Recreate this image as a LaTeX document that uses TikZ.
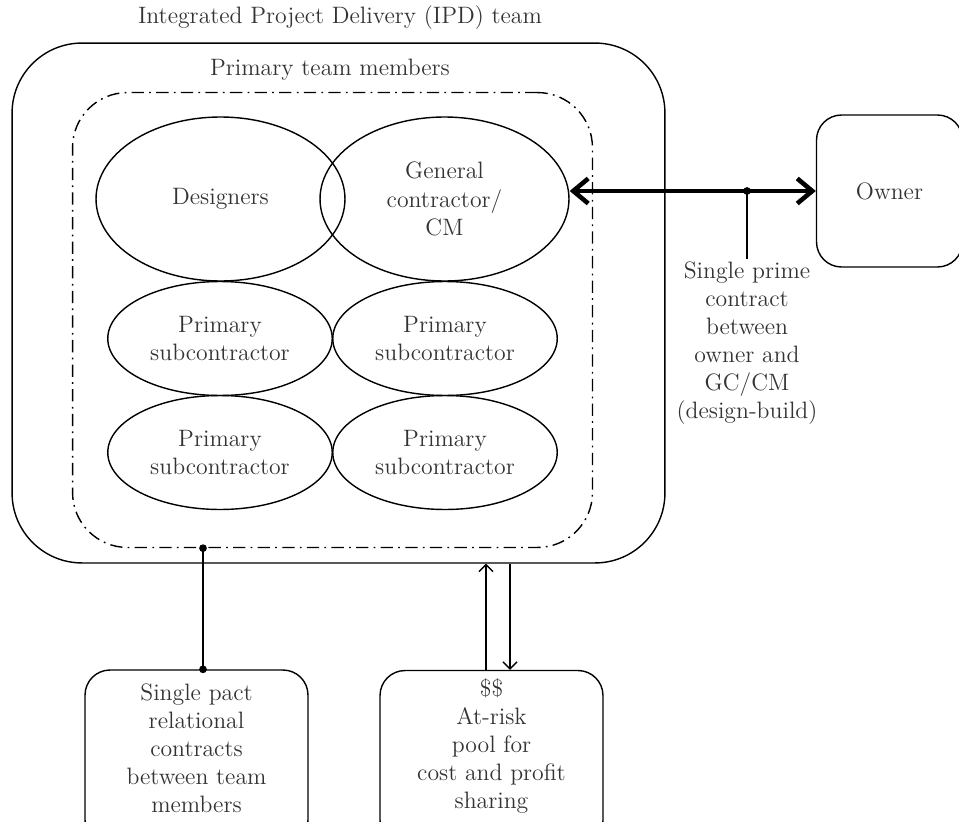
\documentclass[tikz,border=0pt]{standalone}
\usepackage{tikz}
\usetikzlibrary{positioning,arrows.meta,shapes.geometric}

\tikzset{
  member/.style={draw, ellipse, inner sep=0pt, align=center},
  subbox/.style={member, minimum width=4.49cm, minimum height=2.28cm},
  roundbox/.style={draw, rounded corners=0.5cm, inner sep=0pt},
  note/.style={align=center, inner sep=1pt},
  dashdot/.style={dash pattern=on 7pt off 3pt on 1pt off 3pt},
  smallhead/.style={-{Straight Barb[length=4pt,width=8pt]}},
}

\begin{document}
\begin{tikzpicture}[x=0.02cm, y=-0.02cm, line width=0.8pt,
    font=\fontsize{13.5}{16}\selectfont, text=black!80]
  \useasboundingbox (0,0) rectangle (959,821);
  \clip (0,0) rectangle (959,821);

  % team boundaries
  \node[roundbox, rounded corners=1.4cm, minimum width=13.06cm, minimum height=10.4cm] (ipd) at (338.5,303) {};
  \node (ipdlabel) at (340,18) {Integrated Project Delivery (IPD) team};
  \node[draw, dashdot, rounded corners=1.1cm, inner sep=0pt, minimum width=10.4cm, minimum height=9.1cm] (core) at (332.5,320) {};
  \node (corelabel) at (330,70) {Primary team members};

  % members
  \node[member, minimum width=4.98cm, minimum height=3.28cm] (designers) at (220.5,199) {Designers};
  \node[member, minimum width=4.98cm, minimum height=3.28cm] (gc) at (444.5,199) {General\\contractor/\\CM};
  \foreach \y/\n in {338.5/a,452.5/b}{
    \node[subbox] (sub\n1) at (220,\y) {Primary\\subcontractor};
    \node[subbox] (sub\n2) at (445,\y) {Primary\\subcontractor};
  }

  % owner and prime contract
  \node[roundbox, minimum width=2.92cm, minimum height=3.04cm] (owner) at (889.5,191) {Owner};
  \draw[line width=2.6pt, {Straight Barb[length=0.3cm,width=0.5cm]}-{Straight Barb[length=0.3cm,width=0.5cm]}]
    (gc.east |- owner.west) -- (owner.west);
  \coordinate (primetick) at (747,191);
  \node[note, anchor=north] (prime) at (747,259) {Single prime\\contract\\between\\owner and\\GC/CM\\(design-build)};
  \draw (primetick) -- (prime.north);
  \fill (primetick) circle (2.2pt);

  % bottom boxes
  \node[roundbox, minimum width=4.46cm, minimum height=3.5cm] (pact) at (196.5,757.5) {};
  \node[note] (pacttext) at (196.5,748) {Single pact\\relational\\contracts\\between team\\members};
  \node[roundbox, minimum width=4.46cm, minimum height=3.5cm] (pool) at (491.5,758) {};
  \node[note] (pooltext) at (491.5,746) {\$\$\\At-risk\\pool for\\cost and profit\\sharing};

  % connectors to the boxes
  \coordinate (pacttop) at ([xshift=0.13cm]pact.north);
  \coordinate (pacttick) at (pacttop |- core.south);
  \draw (pacttick) -- (pacttop);
  \fill (pacttick) circle (2.2pt);
  \fill (pacttop) circle (2.2pt);
  \draw[smallhead] ([xshift=-0.11cm]pool.north) -- ([xshift=-0.11cm]pool.north |- ipd.south);
  \draw[smallhead] ([xshift=0.37cm]pool.north |- ipd.south) -- ([xshift=0.37cm]pool.north);
\end{tikzpicture}
\end{document}
